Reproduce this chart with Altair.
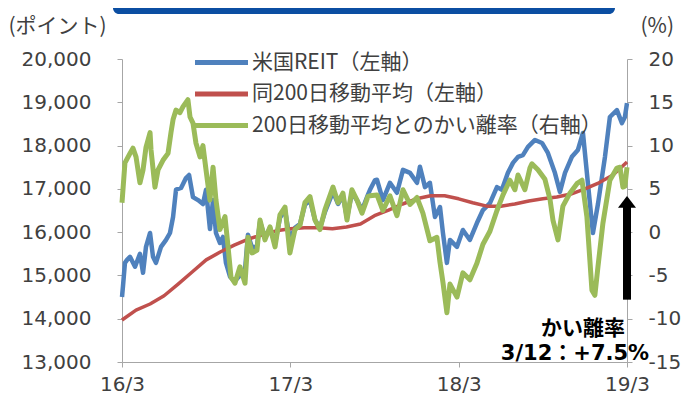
import json
import altair as alt
import pandas as pd

# ---------------- data ----------------
series_names = ["米国REIT（左軸）", "同200日移動平均（左軸）", "200日移動平均とのかい離率（右軸）"]
series_colors = ["#4F81BD", "#C0504D", "#9BBB59"]

x_tick_values = [0, 12, 24, 36]          # months since 2016/3
x_tick_labels = ["16/3", "17/3", "18/3", "19/3"]
left_ticks = [13000, 14000, 15000, 16000, 17000, 18000, 19000, 20000]
right_ticks = [-15, -10, -5, 0, 5, 10, 15, 20]

reit_month = [0.00, 0.07, 0.21, 0.36, 0.57, 0.93, 1.28, 1.50, 1.71, 2.00, 2.21, 2.42, 2.78, 3.14,
              3.42, 3.64, 3.85, 4.21, 4.56, 4.78, 5.06, 5.42, 5.77, 5.99, 6.27, 6.49, 6.70, 6.98,
              7.20, 7.41, 7.70, 7.91, 8.13, 8.41, 8.77, 8.98, 9.27, 9.62, 9.84, 10.19, 10.55,
              10.91, 11.26, 11.62, 11.97, 12.33, 12.69, 13.04, 13.40, 13.76, 14.11, 14.47, 15.04,
              15.40, 15.75, 16.04, 16.39, 16.75, 17.11, 17.53, 17.68, 18.03, 18.18, 18.60, 19.10,
              19.60, 20.03, 20.53, 21.03, 21.24, 21.60, 21.95, 22.31, 22.67, 22.88, 23.16, 23.38,
              23.88, 24.30, 24.80, 25.30, 25.73, 26.23, 26.73, 27.08, 27.51, 27.87, 28.23, 28.58,
              28.94, 29.44, 29.94, 30.36, 30.86, 31.22, 31.58, 32.07, 32.50, 32.86, 33.21, 33.57,
              33.93, 34.43, 34.78, 35.28, 35.64, 35.85, 36.00]
reit_value = [14500, 14750, 15290, 15360, 15430, 15200, 15500, 15060, 15660, 15980, 15430, 15290,
              15660, 15820, 15980, 16350, 16980, 17020, 17250, 17320, 16810, 16740, 16650, 16980,
              16070, 16740, 15980, 15750, 15890, 15290, 14970, 14900, 14900, 15000, 15130, 15940,
              15640, 15680, 16240, 15870, 16100, 15730, 16330, 16510, 15820, 16100, 16190, 16630,
              16740, 16280, 16100, 16470, 16930, 16650, 16840, 16330, 16910, 16740, 16510, 16860,
              16980, 17200, 17210, 16740, 17140, 16910, 17440, 17370, 17140, 17510, 17040, 17140,
              16350, 16580, 15980, 15290, 15820, 15660, 16050, 15820, 16210, 16510, 16670, 17040,
              16980, 17370, 17600, 17740, 17780, 17970, 18130, 18060, 17830, 17370, 16930, 17370,
              17740, 17900, 18290, 17140, 15980, 16650, 17740, 18660, 18820, 18520, 18660, 18980]

ma_month = list(range(0, 37))
ma_value = [13970, 14200, 14340, 14530, 14800, 15080, 15360, 15540, 15700, 15840, 15940, 16030,
            16080, 16100, 16100, 16080, 16120, 16190, 16380, 16510, 16650, 16770, 16840, 16840,
            16770, 16680, 16600, 16600, 16650, 16720, 16770, 16810, 16880, 17000, 17140, 17320,
            17620]

dev_month = [0.00, 0.21, 0.57, 0.78, 1.00, 1.28, 1.50, 1.71, 2.00, 2.07, 2.35, 2.57, 2.92, 3.28,
             3.49, 3.64, 3.85, 4.13, 4.35, 4.70, 4.85, 5.06, 5.27, 5.56, 5.77, 5.99, 6.27, 6.49,
             6.70, 6.98, 7.34, 7.56, 7.77, 8.05, 8.41, 8.77, 8.98, 9.27, 9.62, 9.84, 10.19, 10.55,
             10.91, 11.26, 11.62, 11.97, 12.33, 12.69, 13.04, 13.40, 13.76, 14.11, 14.47, 15.04,
             15.40, 15.75, 16.04, 16.39, 16.75, 17.11, 17.53, 17.68, 18.18, 18.60, 19.10, 19.60,
             20.03, 20.53, 21.03, 21.45, 21.95, 22.45, 22.67, 22.88, 23.16, 23.38, 23.88, 24.30,
             24.80, 25.30, 25.73, 26.23, 26.73, 27.16, 27.65, 28.01, 28.23, 28.72, 29.08, 29.22,
             29.65, 30.15, 30.51, 30.72, 31.08, 31.43, 31.93, 32.43, 32.79, 33.14, 33.50, 33.71,
             33.93, 34.28, 34.78, 35.28, 35.50, 35.71, 35.85, 36.00]
dev_value = [3.4, 8.0, 9.1, 9.7, 8.7, 5.7, 7.2, 9.8, 11.5, 9.5, 5.2, 7.2, 8.3, 9.1, 11.5, 13.0,
             14.1, 13.8, 14.5, 15.3, 13.3, 12.6, 10.3, 8.7, 10.0, 7.2, 3.7, 7.5, 3.7, 0.3, 1.8,
             -1.7, -5.2, -5.9, -4.0, -5.9, -0.6, -2.4, -2.1, 1.4, -0.9, 0.6, -1.7, 2.0, 2.9, -2.4,
             0.3, 0.8, 3.4, 4.1, 1.4, 0.3, 2.6, 5.2, 3.4, 4.5, 1.4, 4.9, 3.7, 2.2, 4.1, 4.2, 4.3,
             2.5, 4.2, 1.9, 4.9, 3.2, 4.0, 2.2, -1.0, -0.6, -3.5, -5.8, -9.3, -6.0, -7.5, -4.7,
             -5.5, -3.6, -1.4, 0.1, 2.5, 4.3, 6.0, 4.9, 6.6, 4.9, 7.4, 7.9, 7.2, 6.1, 3.8, 1.4,
             -0.9, 3.0, 4.5, 5.6, 6.0, 1.8, -6.7, -7.3, -4.0, 1.0, 6.0, 7.4, 7.5, 5.2, 5.3, 7.5]

# annotation (arrow on the right-axis scale, note on the left-axis scale)
arrow_month = [36.0]
arrow_from = [-7.8]
arrow_to = [3.0]
arrow_head = [3.5]
note_month = [32.86, 32.29]
note_value = [13760, 13180]
note_text = ["かい離率", "3/12：+7.5%"]

# ---------------- styling ----------------
GRAY = "#A6A6A6"
TXT = "#404040"
CJK = "Noto Sans CJK JP"
LAT = "DejaVu Sans"

df_reit = pd.DataFrame({"m": reit_month, "v": reit_value, "s": series_names[0]})
df_ma = pd.DataFrame({"m": ma_month, "v": ma_value, "s": series_names[1]})
df_dev = pd.DataFrame({"m": dev_month, "p": dev_value, "s": series_names[2]})
df_arrow = pd.DataFrame({"m": arrow_month, "p": arrow_from, "p2": arrow_to, "h": arrow_head})
df_note = pd.DataFrame({"m": note_month, "v": note_value, "t": note_text})

label_expr = json.dumps(x_tick_labels) + "[round(datum.value / 12)]"

x_scale = alt.Scale(domain=[0, 36], nice=False, zero=False)
x_axis = alt.Axis(values=x_tick_values, labelExpr=label_expr, grid=False, title=None,
                  domainColor=GRAY, tickColor=GRAY, tickSize=5, labelPadding=7,
                  labelFont=LAT, labelFontSize=20, labelColor=TXT,
                  labelFlush=False, labelOverlap=False)

left_scale = alt.Scale(domain=[13000, 20000], nice=False, zero=False)
left_axis = alt.Axis(orient="left", values=left_ticks, labelExpr="format(datum.value, ',')",
                     grid=False, domainColor=GRAY, tickColor=GRAY, tickSize=5, labelPadding=26,
                     labelFont=LAT, labelFontSize=20, labelColor=TXT,
                     title="(ポイント)", titleAngle=0, titleX=-114, titleY=-33,
                     titleAlign="left", titleBaseline="middle", titleFont=CJK,
                     titleFontSize=21, titleFontWeight="normal", titleColor=TXT)

right_scale = alt.Scale(domain=[-15, 20], nice=False, zero=False)
right_axis = alt.Axis(orient="right", values=right_ticks,
                      labelExpr="datum.value < 0 ? '-' + abs(datum.value) : '' + datum.value",
                      grid=False, domainColor=GRAY, tickColor=GRAY, tickSize=5, labelPadding=16,
                      labelFont=LAT, labelFontSize=20, labelColor=TXT,
                      title="(%)", titleAngle=0, titleX=13, titleY=-33,
                      titleAlign="left", titleBaseline="middle", titleFont=CJK,
                      titleFontSize=21, titleFontWeight="normal", titleColor=TXT)

legend = alt.Legend(orient="none", legendX=62.5, legendY=-7, title=None,
                    symbolType="M0,0H10", symbolSize=112.36, symbolStrokeWidth=5,
                    labelOffset=46.5,
                    labelFont=CJK, labelFontSize=21, labelColor=TXT,
                    rowPadding=9.5, padding=0, labelLimit=0)
color = alt.Color("s:N", scale=alt.Scale(domain=series_names, range=series_colors),
                  legend=legend)

X = alt.X("m:Q", scale=x_scale, axis=x_axis)

banner = alt.Chart(pd.DataFrame({"k": [0]})).mark_rect(
    color="#0B4EA2", cornerRadiusBottomLeft=6, cornerRadiusBottomRight=6
).encode(x=alt.value(-9), x2=alt.value(493), y=alt.value(-60), y2=alt.value(-45))

blue = alt.Chart(df_reit).mark_line(strokeWidth=4.5, strokeJoin="round").encode(
    x=X, y=alt.Y("v:Q", scale=left_scale, axis=left_axis), color=color)
red = alt.Chart(df_ma).mark_line(strokeWidth=3.5, strokeJoin="round").encode(
    x=X, y=alt.Y("v:Q", scale=left_scale, axis=left_axis), color=color)
notes = alt.Chart(df_note).mark_text(
    font=LAT + ", " + CJK, fontSize=21, fontWeight="bold", color="black",
    align="center", baseline="middle"
).encode(x=X, y=alt.Y("v:Q", scale=left_scale, axis=left_axis), text="t:N")

green = alt.Chart(df_dev).mark_line(strokeWidth=5, strokeJoin="round").encode(
    x=X, y=alt.Y("p:Q", scale=right_scale, axis=right_axis), color=color)
arrow_rule = alt.Chart(df_arrow).mark_rule(color="black", strokeWidth=8, strokeCap="butt").encode(
    x=X, y=alt.Y("p:Q", scale=right_scale, axis=right_axis), y2="p2:Q")
arrow_tip = alt.Chart(df_arrow).mark_point(
    shape="M-1,0.65L0,-0.65L1,0.65Z", filled=True, color="black", size=324,
    opacity=1, strokeWidth=0
).encode(x=X, y=alt.Y("h:Q", scale=right_scale, axis=right_axis))

left_group = alt.layer(banner, blue, red, notes)
right_group = alt.layer(green, arrow_rule, arrow_tip)

chart = alt.layer(left_group, right_group).resolve_scale(y="independent").properties(
    width=505, height=303,
    autosize=alt.AutoSizeParams(type="none"),
    padding={"left": 114, "top": 51, "right": 55, "bottom": 33},
).configure_view(stroke=None)

chart.save("out.html", embed_options={"renderer": "svg", "actions": False})
